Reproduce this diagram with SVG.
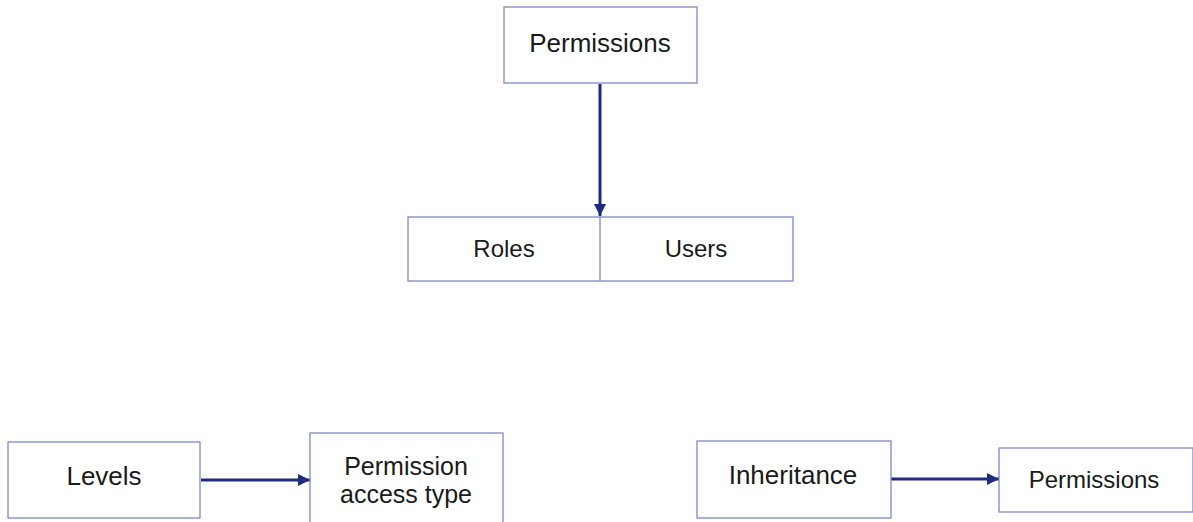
<svg xmlns="http://www.w3.org/2000/svg" width="1193" height="522" viewBox="0 0 1193 522">
<style>
.box{fill:#fff;stroke:#7f89c6;stroke-width:1.3}
.t{font-family:"Liberation Sans",Arial,sans-serif;fill:#1a1a1a;text-anchor:middle}
.c{stroke:#1f2b7e;stroke-width:3;fill:none}
</style>
<defs>
<marker id="ah" viewBox="0 0 10 10" refX="10" refY="5" markerWidth="4" markerHeight="4" markerUnits="strokeWidth" orient="auto">
<path d="M0,0 L10,5 L0,10 Z" fill="#1f2b7e"/>
</marker>
</defs>
<rect width="1193" height="522" fill="#fff"/>
<g id="connectors">
<line class="c" x1="600" y1="84" x2="600" y2="216" marker-end="url(#ah)"/>
<line class="c" x1="201" y1="480" x2="310" y2="480" marker-end="url(#ah)"/>
<line class="c" x1="891" y1="479" x2="999" y2="479" marker-end="url(#ah)"/>
</g>
<g id="permissions-top">
<rect class="box" x="504" y="7" width="193" height="76"/>
<text class="t" x="600" y="52" font-size="26">Permissions</text>
</g>
<g id="roles-users">
<rect class="box" x="408" y="217" width="385" height="64"/>
<line x1="600" y1="217" x2="600" y2="281" stroke="#7f89c6" stroke-width="1.3"/>
<text class="t" x="504" y="257" font-size="24">Roles</text>
<text class="t" x="696" y="257" font-size="24">Users</text>
</g>
<g id="levels">
<rect class="box" x="8" y="442" width="192" height="76"/>
<text class="t" x="104" y="485" font-size="26">Levels</text>
</g>
<g id="permission-access-type">
<rect class="box" x="310" y="433" width="193" height="95"/>
<text class="t" x="406" y="475" font-size="25">Permission</text>
<text class="t" x="406" y="503" font-size="25">access type</text>
</g>
<g id="inheritance">
<rect class="box" x="697" y="441" width="194" height="77"/>
<text class="t" x="793" y="484" font-size="26">Inheritance</text>
</g>
<g id="permissions-right">
<rect class="box" x="999" y="448" width="194" height="64"/>
<text class="t" x="1094" y="488" font-size="24">Permissions</text>
</g>
</svg>
